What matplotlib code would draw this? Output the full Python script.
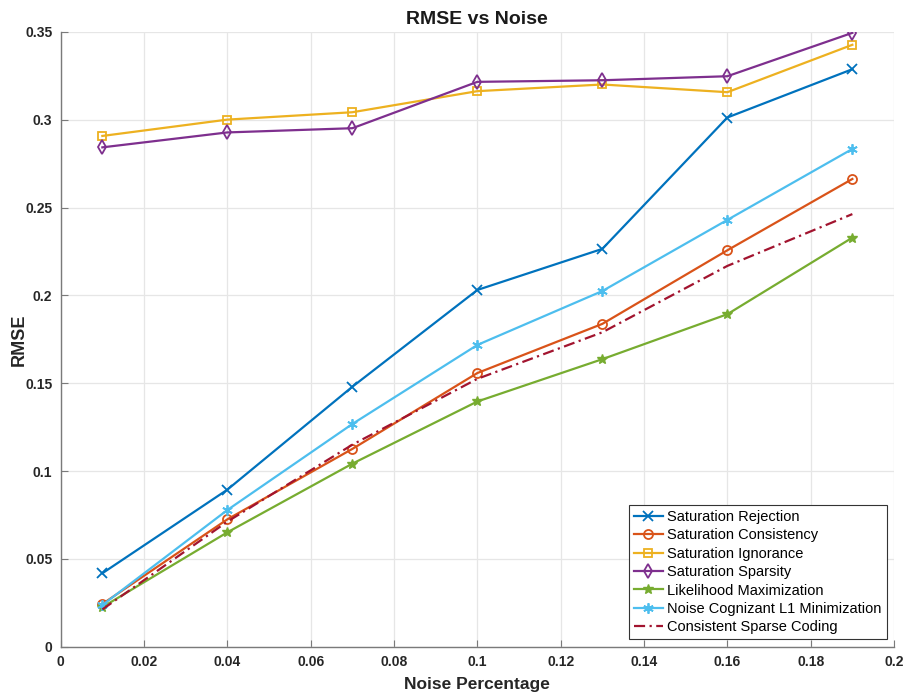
import matplotlib
matplotlib.use("Agg")
import matplotlib.pyplot as plt
from matplotlib.ticker import FuncFormatter

plt.rcParams['font.family'] = ['Liberation Sans', 'DejaVu Sans']

noise = [0.01, 0.04, 0.07, 0.10, 0.13, 0.16, 0.19]

sat_rejection = [0.0418, 0.0894, 0.148, 0.2031, 0.2265, 0.3013, 0.3288]
sat_consistency = [0.0243, 0.0725, 0.1126, 0.1558, 0.1838, 0.2257, 0.2663]
sat_ignorance = [0.2908, 0.3001, 0.3043, 0.3163, 0.3201, 0.3157, 0.3427]
sat_sparsity = [0.2843, 0.2928, 0.2952, 0.3216, 0.3225, 0.3248, 0.3495]
likelihood_max = [0.0225, 0.0651, 0.1042, 0.1396, 0.1637, 0.1893, 0.2329]
noise_l1 = [0.0237, 0.0778, 0.1268, 0.1718, 0.2025, 0.2430, 0.2834]
sparse_coding = [0.0212, 0.0712, 0.1150, 0.1525, 0.1790, 0.2168, 0.2463]

fig = plt.figure(figsize=(9.07, 6.92), dpi=100)
ax = fig.add_axes([0.0669, 0.0655, 0.9188, 0.8883])

lw = 1.6
ax.plot(noise, sat_rejection, color='#0072BD', lw=lw, marker='x', ms=6.5, mew=1.3,
        label='Saturation Rejection')
ax.plot(noise, sat_consistency, color='#D95319', lw=lw, marker='o', ms=6.5, mew=1.3,
        mfc='none', label='Saturation Consistency')
ax.plot(noise, sat_ignorance, color='#EDB120', lw=lw, marker='s', ms=6, mew=1.3,
        mfc='none', label='Saturation Ignorance')
ax.plot(noise, sat_sparsity, color='#7E2F8E', lw=lw, marker='d', ms=7.5, mew=1.3,
        mfc='none', label='Saturation Sparsity')
ax.plot(noise, likelihood_max, color='#77AC30', lw=lw, marker='*', ms=7.5, mew=1.0,
        label='Likelihood Maximization')
ax.plot(noise, noise_l1, color='#4DBEEE', lw=lw, marker=(6, 2, 0), ms=7.5, mew=1.3,
        label='Noise Cognizant L1 Minimization')
ax.plot(noise, sparse_coding, color='#A2142F', lw=lw, ls=(0, (5, 2, 1, 2)),
        label='Consistent Sparse Coding')

ax.set_xlim(0, 0.2)
ax.set_ylim(0, 0.35)
ax.set_xticks([i * 0.02 for i in range(11)])
ax.set_yticks([i * 0.05 for i in range(8)])
fmt = FuncFormatter(lambda v, p: '%g' % round(v, 4))
ax.xaxis.set_major_formatter(fmt)
ax.yaxis.set_major_formatter(fmt)

ax.grid(True, color='#e6e6e6', lw=0.9)
ax.set_axisbelow(True)
for s in ['top', 'right']:
    ax.spines[s].set_visible(False)
for s in ['left', 'bottom']:
    ax.spines[s].set_color('#7a7a7a')
    ax.spines[s].set_linewidth(1.0)
ax.tick_params(direction='in', length=5, color='#7a7a7a', labelsize=10,
               labelcolor='#262626', pad=6)
for lbl in ax.get_xticklabels() + ax.get_yticklabels():
    lbl.set_fontweight('bold')

ax.set_title('RMSE vs Noise', fontsize=14, fontweight='bold', color='#1a1a1a', pad=6)
ax.set_xlabel('Noise Percentage', fontsize=12.5, fontweight='bold', color='#262626',
              labelpad=6)
ax.set_ylabel('RMSE', fontsize=13, fontweight='bold', color='#262626', labelpad=-2)

leg = ax.legend(loc='lower right', fontsize=10.5, fancybox=False, framealpha=1,
                edgecolor='#333333', labelspacing=0.3, handlelength=2.0,
                handletextpad=0.3, borderpad=0.35, borderaxespad=0.5)
leg.get_frame().set_linewidth(0.8)

fig.savefig('out.png', dpi=100)
